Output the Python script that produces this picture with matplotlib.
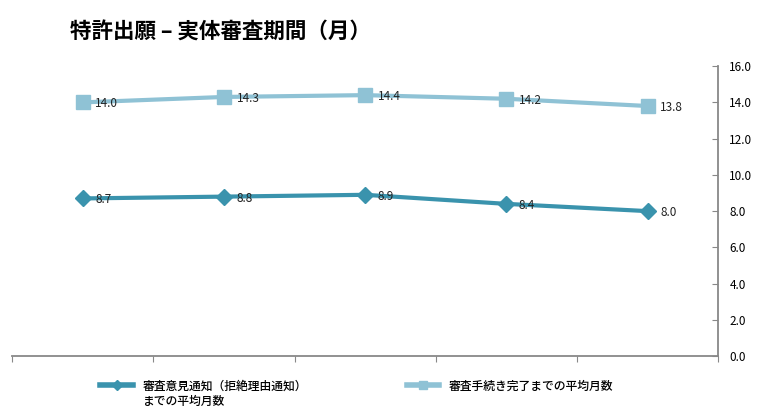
import matplotlib
matplotlib.use("Agg")
from matplotlib import pyplot as plt
from matplotlib.lines import Line2D

plt.rcParams['font.family'] = ['Noto Sans CJK JP', 'DejaVu Sans']

# データ
categories = ["1", "2", "3", "4", "5"]
notice_months = [8.7, 8.8, 8.9, 8.4, 8.0]
complete_months = [14.0, 14.3, 14.4, 14.2, 13.8]
label_notice = "審査意見通知（拒絶理由通知）\nまでの平均月数"
label_complete = "審査手続き完了までの平均月数"
title = "特許出願 – 実体審査期間（月）"

dark = "#3a93ad"
light = "#8fc2d5"

fig = plt.figure(figsize=(7.64, 4.16), dpi=100)
ax = fig.add_axes([0.016, 0.144, 0.924, 0.697])

x = range(len(categories))
ax.plot(x, notice_months, color=dark, lw=3, marker="D", ms=8.5, zorder=3)
ax.plot(x, complete_months, color=light, lw=3, marker="s", ms=10, zorder=3)

for xi, v in zip(x, notice_months):
    ax.annotate(f"{v:.1f}", (xi, v), xytext=(9, -1), textcoords="offset points",
                va="center", ha="left", fontsize=8.5, color="#222222")
for xi, v in zip(x, complete_months):
    ax.annotate(f"{v:.1f}", (xi, v), xytext=(9, -1), textcoords="offset points",
                va="center", ha="left", fontsize=8.5, color="#222222")

ax.set_xlim(-0.5, len(categories) - 0.5)
ax.set_ylim(0, 16)
ax.set_yticks(range(0, 17, 2))
ax.set_yticklabels([f"{t:.1f}" for t in range(0, 17, 2)])
ax.yaxis.tick_right()
ax.tick_params(axis="y", direction="in", length=4, color="#888888", labelsize=8.5, pad=8)
ax.set_xticks([i - 0.5 for i in range(len(categories) + 1)])
ax.set_xticklabels([])
ax.tick_params(axis="x", direction="out", length=4, color="#888888")

for s in ["top", "left"]:
    ax.spines[s].set_visible(False)
ax.spines["right"].set_color("#888888")
ax.spines["bottom"].set_color("#888888")
ax.spines["right"].set_linewidth(1.3)
ax.spines["bottom"].set_linewidth(1.3)

fig.text(0.092, 0.923, title, fontsize=15.5, fontweight="bold", va="center", ha="left")

# 凡例
fig.add_artist(Line2D([0.131, 0.1525, 0.174], [0.074, 0.074, 0.074], color=dark, lw=4,
                      marker="D", ms=5.5, markevery=[1], transform=fig.transFigure))
fig.text(0.187, 0.088, label_notice, fontsize=8.5, fontweight="medium",
         va="top", ha="left", linespacing=1.25)
fig.add_artist(Line2D([0.533, 0.5535, 0.574], [0.074, 0.074, 0.074], color=light, lw=4,
                      marker="s", ms=5.5, markevery=[1], transform=fig.transFigure))
fig.text(0.587, 0.088, label_complete, fontsize=8.5, fontweight="medium",
         va="top", ha="left")

plt.savefig("out.png", dpi=100)
